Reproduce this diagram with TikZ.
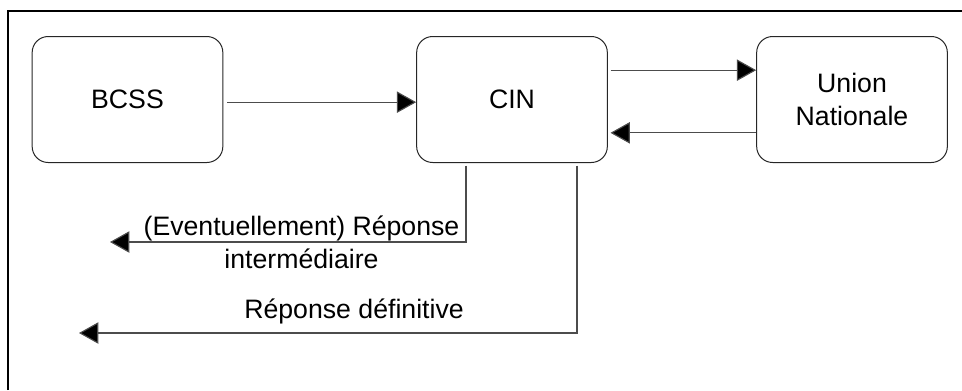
\documentclass[tikz,border=0pt]{standalone}
\usepackage{fontspec}
\setmainfont{Liberation Sans}
\usepackage{tikz}
\usetikzlibrary{arrows.meta}
\tikzset{entity/.style={draw=black!85,line width=0.75pt,rounded corners=12pt,
        minimum width=143pt,minimum height=94.5pt,align=center,inner sep=0pt},
    flow/.style={draw=black!70,line width=0.85pt,
        -{Triangle[length=14.5pt,width=16pt,fill=black]}},
    label/.style={align=center,inner sep=0pt},
    every node/.style={font=\fontsize{20}{24.75}\selectfont}}

\begin{document}
\begin{tikzpicture}[x=0.75pt,y=-0.75pt]
            \useasboundingbox (0,0) rectangle (962,390);
            \draw[line width=1.5pt] (8,390) -- (8,11) -- (962,11);
            \node[entity] (bcss) at (127.5,99.5) {BCSS};
            \node[entity] (cin) at (512,99.5) {CIN};
            \node[entity] (union) at (852,99.5) {Union\\Nationale};
            \coordinate (tip1) at (110,242);
            \coordinate (tip2) at (79,333);
            \draw[flow] ([xshift=3pt,yshift=-2pt]bcss.east) -- ([yshift=-2pt]cin.west);
            \draw[flow] ([xshift=2pt,yshift=22pt]cin.east) -- ([yshift=22pt]union.west);
            \draw[flow] ([yshift=-25pt]union.west) -- ([xshift=2pt,yshift=-25pt]cin.east);
            \draw[flow] ([xshift=-34.5pt,yshift=-2pt]cin.south) |- (tip1);
            \draw[flow] ([xshift=48.75pt,yshift=-2pt]cin.south) |- (tip2);
            \node[label,anchor=base] (interm) at (301.5,268) {(Eventuellement) R\'eponse\\interm\'ediaire};
            \node[label,anchor=base east] (defin) at (464,318) {R\'eponse d\'efinitive};
        \end{tikzpicture}
\end{document}
